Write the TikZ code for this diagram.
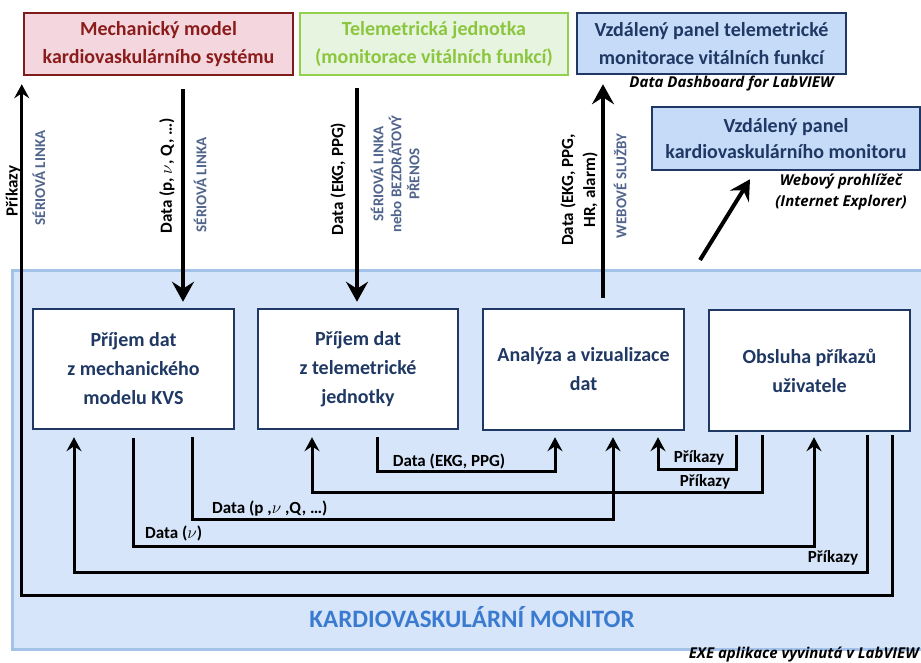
\documentclass[tikz,border=0pt]{standalone}
\usepackage{fontspec}
\setmainfont{Carlito}
\newfontfamily\osans{Open Sans}
\usetikzlibrary{arrows.meta}
\definecolor{mechfill}{HTML}{F4D7DE}
\definecolor{mechdraw}{HTML}{7F1D1D}
\definecolor{mechtext}{HTML}{8B1C1C}
\definecolor{telefill}{HTML}{E7F5E0}
\definecolor{teledraw}{HTML}{92D050}
\definecolor{teletext}{HTML}{8CC63F}
\definecolor{bluefill}{HTML}{C6DBF7}
\definecolor{navy}{HTML}{1F3864}
\definecolor{panelfill}{HTML}{D6E5F9}
\definecolor{paneldraw}{HTML}{A3C2EA}
\definecolor{linkgray}{HTML}{50648C}
\definecolor{monblue}{HTML}{3A7BD0}
\begin{document}
\begin{tikzpicture}[x=1pt,y=-1pt,
  boxtext/.style={font=\bfseries\fontsize{20}{28}\selectfont, align=center, line width=2.5pt, inner sep=0pt},
  topbox/.style={boxtext, minimum width=269pt, minimum height=62pt},
  innerbox/.style={boxtext, draw=navy, fill=white, text=navy, minimum width=201pt, minimum height=120pt, font=\bfseries\fontsize{20}{29}\selectfont},
  lbl/.style={font=\bfseries\fontsize{17}{19}\selectfont, inner sep=0pt},
  rlbl/.style={lbl, rotate=90, align=center, font=\bfseries\fontsize{17}{22}\selectfont},
  linklbl/.style={font=\bfseries\fontsize{15}{18}\selectfont, text=linkgray, rotate=90, align=center, inner sep=0pt},
  bigarrow/.style={line width=4pt, -{Stealth[length=20pt,width=22pt,inset=7pt]}},
  loopline/.style={line width=3pt, -{Stealth[length=14pt,width=15pt,inset=5pt]}},
  note/.style={font=\osans\bfseries\itshape\fontsize{15}{21}\selectfont, inner sep=0pt, align=center}
]
\useasboundingbox (0,0) rectangle (921,663);
\clip (0,0) rectangle (921,663);

% panel
\node[draw=paneldraw, fill=panelfill, line width=2.5pt, anchor=north west,
      minimum width=918pt, minimum height=379pt, inner sep=0pt] (panel) at (11,269) {};
\node[font=\bfseries\fontsize{25}{28}\selectfont, text=monblue, inner sep=0pt] (montitle) at (472,617) {KARDIOVASKULÁRNÍ MONITOR};
\node[note, anchor=base east] (exe) at (919,658) {EXE aplikace vyvinutá v LabVIEW};

% top boxes
\node[topbox, draw=mechdraw, fill=mechfill, text=mechtext] (mech) at (158.5,44) {Mechanický model\\kardiovaskulárního systému};
\node[topbox, draw=teledraw, fill=telefill, text=teletext, minimum width=268pt] (tele) at (434,44) {Telemetrická jednotka\\(monitorace vitálních funkcí)};
\node[topbox, draw=navy, fill=bluefill, text=navy, minimum height=61pt] (vtel) at (711.5,43.5) {Vzdálený panel telemetrické\\monitorace vitálních funkcí};
\node[note] (dash) at (731.5,84) {Data Dashboard for LabVIEW};
\node[topbox, draw=navy, fill=bluefill, text=navy, minimum width=268pt, minimum height=63pt, font=\bfseries\fontsize{20}{26}\selectfont] (vkard) at (786,138.5) {Vzdálený panel\\kardiovaskulárního monitoru};
\node[note] (web) at (841,192.5) {Webový prohlížeč\\(Internet Explorer)};

% inner boxes
\node[innerbox] (b1) at (133.5,369) {Příjem dat\\z mechanického\\modelu KVS};
\node[innerbox, minimum width=200pt] (b2) at (358,369) {Příjem dat\\z telemetrické\\jednotky};
\node[innerbox, minimum height=121pt] (b3) at (583.5,369.5) {Analýza a vizualizace\\dat};
\node[innerbox, minimum height=121pt] (b4) at (809.5,370.5) {Obsluha příkazů\\uživatele};

% vertical main arrows
\draw[bigarrow] ([xshift=24.5pt,yshift=-13pt]mech.south) -- ([xshift=49.5pt,yshift=6pt]b1.north);
\draw[bigarrow] ([xshift=-77pt,yshift=-12pt]tele.south) -- ([xshift=-1pt,yshift=6pt]b2.north);
\draw[bigarrow] ([xshift=19.5pt,yshift=10pt]b3.north) -- ([xshift=-108.5pt,yshift=-9pt]vtel.south);
\coordinate (diagstart) at (700,260);
\draw[bigarrow] (diagstart) -- ([xshift=-36pt,yshift=-8pt]vkard.south);

% rotated labels
\node[rlbl] (lp1) at (13,191) {Příkazy};
\node[linklbl] (ls1) at (39,178) {SÉRIOVÁ LINKA};
\node[rlbl] (ld1) at (167,176) {Data (p, $\nu$, Q, …)};
\node[linklbl] (ls2) at (200,185) {SÉRIOVÁ LINKA};
\node[rlbl] (ld2) at (338,179) {Data (EKG, PPG)};
\node[linklbl] (ls3) at (395,174) {SÉRIOVÁ LINKA\\nebo BEZDRÁTOVÝ\\PŘENOS};
\node[rlbl] (ld3) at (579,190) {Data (EKG, PPG,\\HR, alarm)};
\node[linklbl] (ls4) at (620,186) {WEBOVÉ SLUŽBY};

% loop connector end points
\coordinate (s1) at ([xshift=82.5pt,yshift=-3pt]b4.south);
\coordinate (t1) at ([xshift=-1pt,yshift=-8pt]mech.south west);
\coordinate (s2) at ([xshift=57.5pt,yshift=-3pt]b4.south);
\coordinate (t2) at ([xshift=-59.5pt,yshift=-7pt]b1.south);
\coordinate (s3) at ([xshift=-0.5pt,yshift=-8pt]b1.south);
\coordinate (t3) at ([xshift=4.5pt,yshift=-5pt]b4.south);
\coordinate (s4) at ([xshift=58.5pt,yshift=-7pt]b1.south);
\coordinate (t4) at ([xshift=29.5pt,yshift=-6pt]b3.south);
\coordinate (s5) at ([xshift=-47.5pt,yshift=-3pt]b4.south);
\coordinate (t5) at ([xshift=-46pt,yshift=-7pt]b2.south);
\coordinate (s6) at ([xshift=19pt,yshift=-7pt]b2.south);
\coordinate (t6) at ([xshift=-28.5pt,yshift=-6pt]b3.south);
\coordinate (s7) at ([xshift=-73.5pt,yshift=-3pt]b4.south);
\coordinate (t7) at ([xshift=74.5pt,yshift=-6pt]b3.south);
% levels
\coordinate (L1) at (0,595);
\coordinate (L2) at (0,572);
\coordinate (L3) at (0,546);
\coordinate (L4) at (0,519);
\coordinate (L5) at (0,492);
\coordinate (L6) at (0,471);
\coordinate (L7) at (0,469);

\draw[loopline] (s1) -- (s1 |- L1) -| (t1);
\draw[loopline] (s2) -- (s2 |- L2) -| (t2);
\draw[loopline] (s3) -- (s3 |- L3) -| (t3);
\draw[loopline] (s4) -- (s4 |- L4) -| (t4);
\draw[loopline] (s5) -- (s5 |- L5) -| (t5);
\draw[loopline] (s6) -- (s6 |- L6) -| (t6);
\draw[loopline] (s7) -- (s7 |- L7) -| (t7);

% loop labels
\node[lbl] (k1) at (449,461) {Data (EKG, PPG)};
\node[lbl] (k2) at (699,458) {Příkazy};
\node[lbl] (k3) at (705,482) {Příkazy};
\node[lbl, anchor=west] (k4) at (212,509) {Data (p ,$\nu$ ,Q, …)};
\node[lbl, anchor=west] (k5) at (145,533) {Data ($\nu$)};
\node[lbl] (k6) at (833,558) {Příkazy};
\end{tikzpicture}
\end{document}
